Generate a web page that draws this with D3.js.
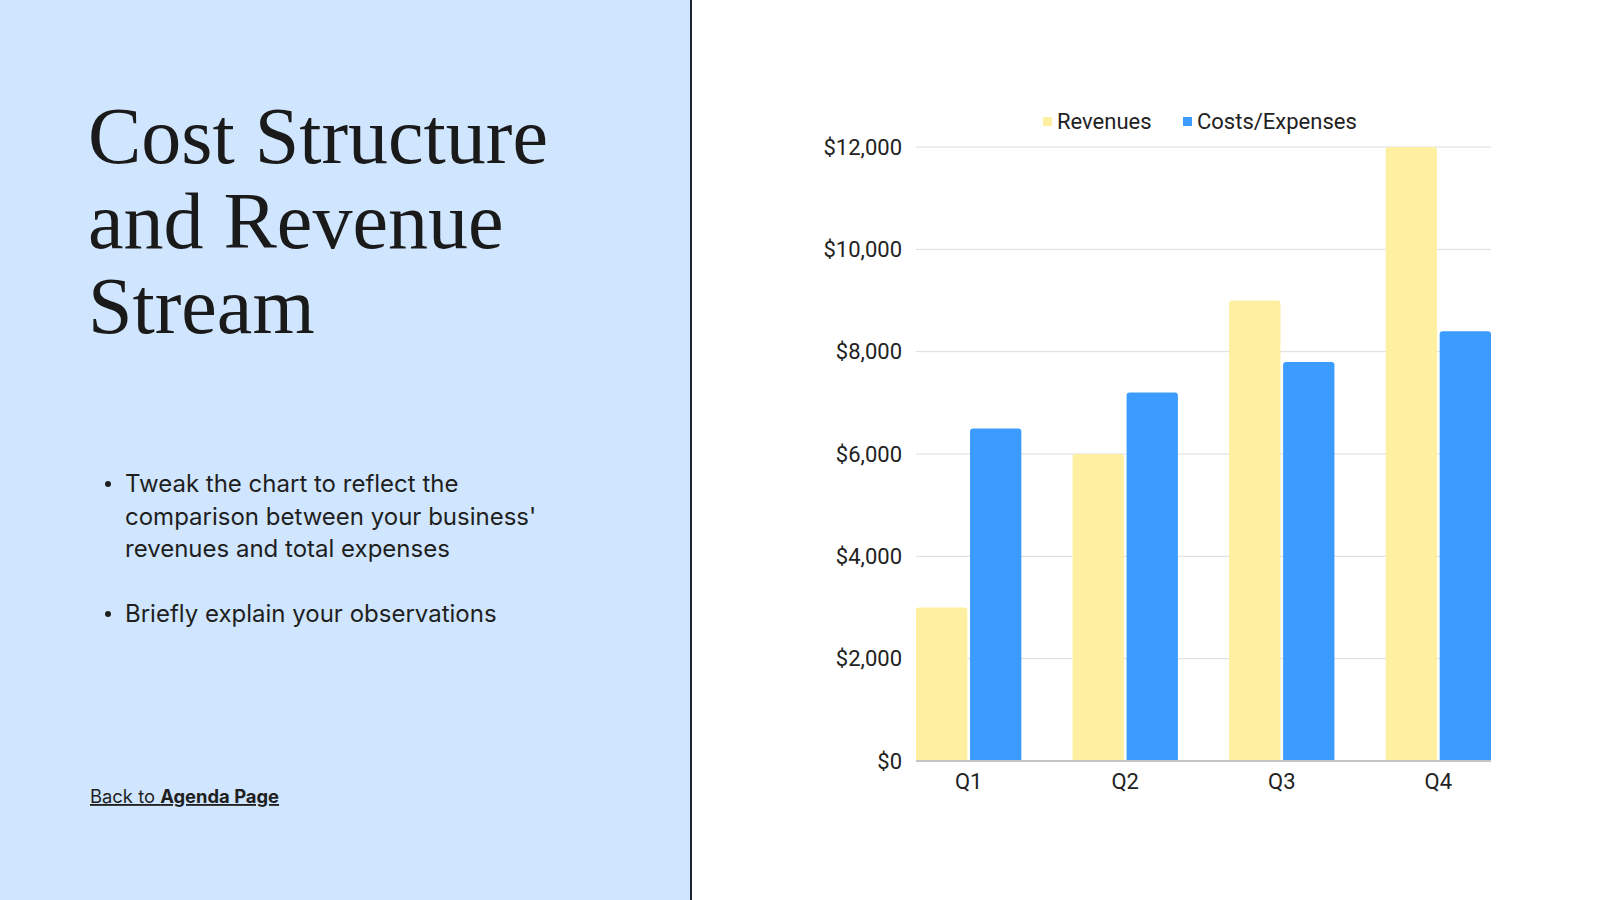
<!DOCTYPE html>
<html>

<head>
  <meta charset="utf-8">
  <script src="https://d3js.org/d3.v7.min.js"></script>
  <style>
    body {
      margin: 0;
      background: #fff;
    }

    svg {
      display: block;
    }
  </style>
</head>

<body>
  <svg width="1600" height="900"></svg>
  <script>
    // data
    const quarters = ["Q1", "Q2", "Q3", "Q4"];
    const seriesNames = ["Revenues", "Costs/Expenses"];
    const revenues = [3000, 6000, 9000, 12000];
    const costs = [6500, 7200, 7800, 8400];
    const yTicks = [0, 2000, 4000, 6000, 8000, 10000, 12000];

    const titleLines = ["Cost Structure", "and Revenue", "Stream"];
    const bullets = [
      ["Tweak the chart to reflect the", "comparison between your business'", "revenues and total expenses"],
      ["Briefly explain your observations"]
    ];

    const colors = { "Revenues": "#FFEFA1", "Costs/Expenses": "#3C9BFF" };

    const svg = d3.select("svg");

    // left panel
    svg.append("rect")
      .attr("x", 0).attr("y", 0)
      .attr("width", 691).attr("height", 900)
      .attr("fill", "#D0E6FE");
    svg.append("line")
      .attr("x1", 691).attr("x2", 691)
      .attr("y1", 0).attr("y2", 900)
      .attr("stroke", "#1c2331")
      .attr("stroke-width", 2);

    svg.append("g")
      .selectAll("text")
      .data(titleLines)
      .join("text")
      .attr("x", 88)
      .attr("y", (d, i) => 163 + i * 85)
      .attr("font-family", "'Liberation Serif', 'DejaVu Serif', serif")
      .attr("font-size", 80)
      .attr("fill", "#1a1a1a")
      .text(d => d);

    const bulletStarts = [492, 622];
    bullets.forEach((lines, bi) => {
      const g = svg.append("g")
        .attr("font-family", "Inter, 'Noto Sans', sans-serif")
        .attr("font-size", 24)
        .attr("fill", "#1f1f1f");
      g.append("circle")
        .attr("cx", 108)
        .attr("cy", bulletStarts[bi] - 8)
        .attr("r", 3);
      g.selectAll("text")
        .data(lines)
        .join("text")
        .attr("x", 125)
        .attr("y", (d, i) => bulletStarts[bi] + i * 32.5)
        .text(d => d);
    });

    const back = svg.append("text")
      .attr("x", 90)
      .attr("y", 803)
      .attr("font-family", "Inter, 'Noto Sans', sans-serif")
      .attr("font-size", 18.4)
      .attr("fill", "#1f1f1f")
      .attr("text-decoration", "underline");
    back.append("tspan").text("Back to ");
    back.append("tspan").attr("font-weight", "bold").text("Agenda Page");

    // chart area
    const plot = { left: 916, right: 1491, top: 147, bottom: 761 };

    const x = d3.scaleBand()
      .domain(quarters)
      .range([plot.left, plot.right])
      .paddingInner(0.327)
      .paddingOuter(0);

    const xInner = d3.scaleBand()
      .domain(seriesNames)
      .range([0, x.bandwidth()])
      .paddingInner(0.05);

    const y = d3.scaleLinear()
      .domain([0, 12000])
      .range([plot.bottom, plot.top]);

    // gridlines
    svg.append("g")
      .selectAll("line")
      .data(yTicks.filter(d => d > 0))
      .join("line")
      .attr("x1", plot.left)
      .attr("x2", plot.right)
      .attr("y1", d => y(d))
      .attr("y2", d => y(d))
      .attr("stroke", "#dcdcdc")
      .attr("stroke-width", 1);

    // y axis labels
    const yAxis = svg.append("g")
      .attr("transform", `translate(${plot.left - 14},0)`)
      .call(d3.axisLeft(y).tickValues(yTicks).tickSize(0).tickPadding(0)
        .tickFormat(d => "$" + d3.format(",")(d)));
    yAxis.select(".domain").remove();
    yAxis.selectAll("text")
      .attr("font-family", "Roboto, 'Liberation Sans', sans-serif")
      .attr("font-size", 22)
      .attr("fill", "#222");

    // bars
    const rows = quarters.map((q, i) => ({ q, values: [revenues[i], costs[i]] }));
    svg.append("g")
      .selectAll("g")
      .data(rows)
      .join("g")
      .attr("transform", d => `translate(${x(d.q)},0)`)
      .selectAll("path")
      .data(d => d.values.map((v, j) => ({ key: seriesNames[j], value: v })))
      .join("path")
      .attr("fill", d => colors[d.key])
      .attr("d", d => {
        const x0 = xInner(d.key), w = xInner.bandwidth();
        const y0 = y(d.value), y1 = y(0), r = 3;
        return `M${x0},${y1}V${y0 + r}Q${x0},${y0} ${x0 + r},${y0}H${x0 + w - r}Q${x0 + w},${y0} ${x0 + w},${y0 + r}V${y1}Z`;
      });

    // baseline
    svg.append("line")
      .attr("x1", plot.left)
      .attr("x2", plot.right)
      .attr("y1", plot.bottom)
      .attr("y2", plot.bottom)
      .attr("stroke", "#c4c4c4")
      .attr("stroke-width", 2);

    // x axis labels
    const xAxis = svg.append("g")
      .attr("transform", `translate(0,${plot.bottom + 12})`)
      .call(d3.axisBottom(x).tickSize(0).tickPadding(0));
    xAxis.select(".domain").remove();
    xAxis.selectAll("text")
      .attr("font-family", "Roboto, 'Liberation Sans', sans-serif")
      .attr("font-size", 22)
      .attr("fill", "#222");

    // legend
    const legendPos = [1043, 1183];
    const legend = svg.append("g")
      .selectAll("g")
      .data(seriesNames)
      .join("g")
      .attr("transform", (d, i) => `translate(${legendPos[i]},121)`);
    legend.append("rect")
      .attr("x", 0).attr("y", -4)
      .attr("width", 9).attr("height", 9)
      .attr("fill", d => colors[d]);
    legend.append("text")
      .attr("x", 14)
      .attr("dy", "0.35em")
      .attr("font-family", "Roboto, 'Liberation Sans', sans-serif")
      .attr("font-size", 22)
      .attr("fill", "#222")
      .text(d => d);
  </script>

</body>

</html>
